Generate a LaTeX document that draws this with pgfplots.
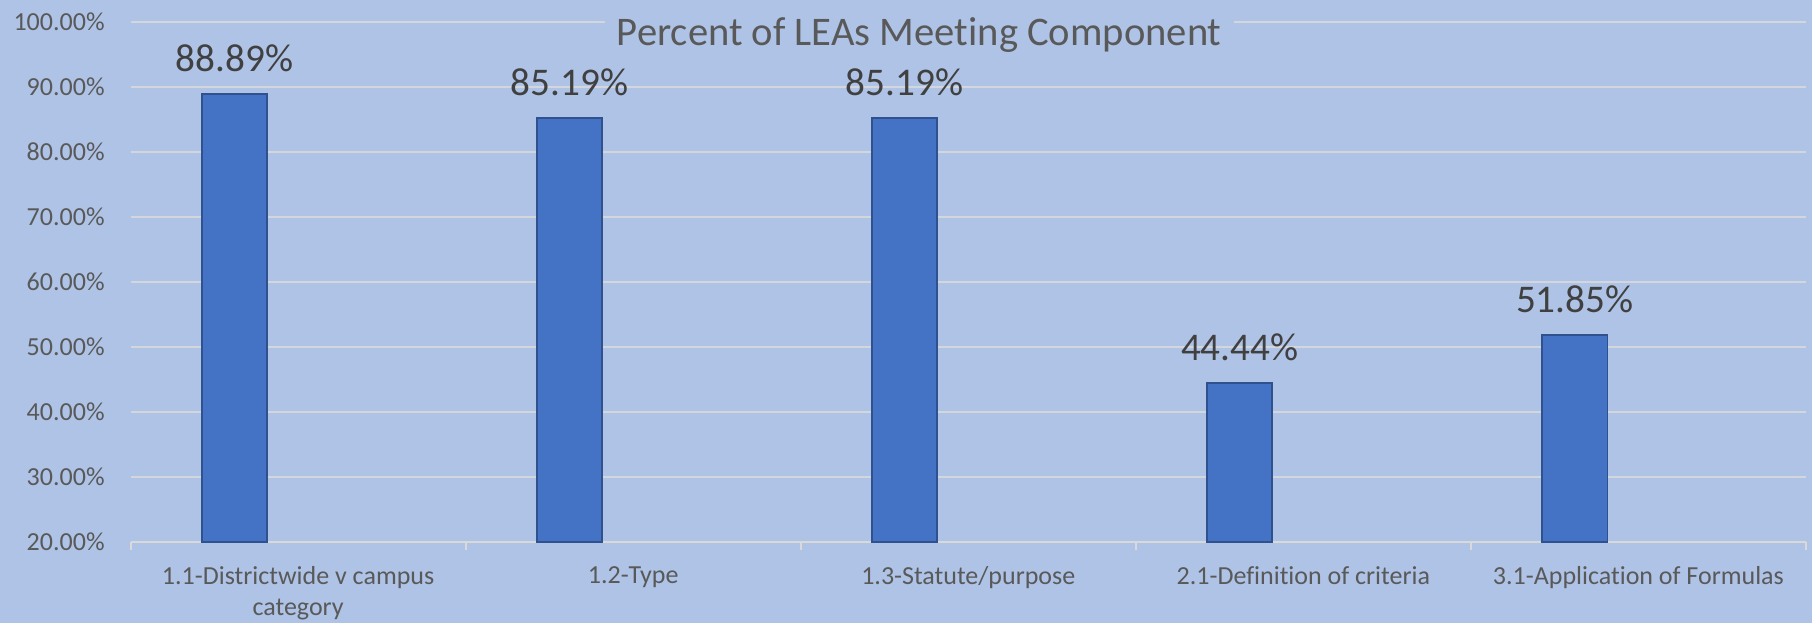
\documentclass[border=0pt]{standalone}
\usepackage{fontspec}
\setmainfont[Ligatures=NoCommon]{Carlito}
\usepackage{pgfplots}
\usepackage{pgfplotstable}
\pgfplotsset{compat=1.18}
\definecolor{bg}{HTML}{AEC3E6}
\definecolor{barfill}{HTML}{4472C4}
\definecolor{baredge}{HTML}{2F528F}
\definecolor{gridc}{HTML}{D9D9D9}
\definecolor{tickc}{HTML}{595959}
\definecolor{labc}{HTML}{404040}
\pgfplotstableread{
x y
0 88.89
1 85.19
2 85.19
3 44.44
4 51.85
}\datatable
\begin{document}
\begin{tikzpicture}
\fill[bg] (-65.3pt,-40.5pt) rectangle (840.7pt,271pt);
\begin{axis}[
  scale only axis, width=837.7pt, height=260pt,
  xmin=-0.5, xmax=4.5, ymin=20, ymax=100,
  clip mode=individual,
  /pgf/number format/assume math mode=true,
  ybar, bar width=0.194, bar shift=-0.19,
  axis x line*=bottom, axis y line*=left,
  y axis line style={draw=none},
  x axis line style={draw=gridc, line width=1.2pt},
  ytick={20,30,...,100},
  ymajorgrids, grid style={draw=gridc!85!bg, line width=0.6pt},
  ytick style={draw=none},
  xtick={-0.5,0.5,...,4.5},
  x tick label as interval,
  xticklabels={{1.1-Districtwide v campus\\category},{1.2-Type},{1.3-Statute/purpose},{2.1-Definition of criteria},{3.1-Application of Formulas}},
  tick align=outside, major tick length=4pt,
  xtick style={draw=gridc, line width=1pt},
  xticklabel style={font=\fontsize{13}{15.5}\selectfont, text=tickc, align=center, anchor=north, inner sep=0pt, yshift=-8pt},
  yticklabel={\pgfmathprintnumber[fixed,fixed zerofill,precision=2]{\tick}\%},
  yticklabel style={font=\fontsize{13}{15}\selectfont, text=tickc, anchor=east, inner sep=0pt, xshift=-8.8pt},
  nodes near coords={\pgfmathprintnumber[fixed,fixed zerofill,precision=2]{\pgfplotspointmeta}\%},
  nodes near coords style={font=\fontsize{19.6}{24}\selectfont, text=labc, anchor=south, inner sep=0pt, yshift=10.7pt},
]
\addplot[fill=barfill, draw=baredge, line width=0.8pt] table[x=x,y=y] {\datatable};
\node[font=\fontsize{20.3}{24}\selectfont, text=tickc, anchor=base, fill=bg, inner xsep=6pt, inner ysep=2pt] at (rel axis cs:0.4707,0.955) {Percent of LEAs Meeting Component};
\end{axis}
\pgfresetboundingbox
\useasboundingbox (-65.3pt,-40.5pt) rectangle (840.7pt,271pt);
\end{tikzpicture}
\end{document}
